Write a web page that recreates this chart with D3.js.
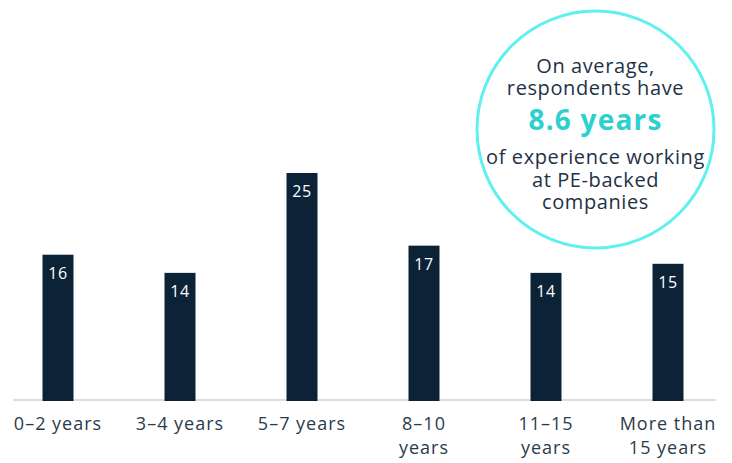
<!DOCTYPE html>
<html>
<head>
<meta charset="utf-8">
<script src="https://cdn.jsdelivr.net/npm/d3@7"></script>
<style>
  body { margin: 0; background: #fff; }
  svg { display: block; font-family: "Open Sans", "Noto Sans", sans-serif; }
</style>
</head>
<body>
<div id="chart"></div>
<script>
// data
const categories = ["0–2 years", "3–4 years", "5–7 years", "8–10 years", "11–15 years", "More than 15 years"]
const labelLines = [["0–2 years"], ["3–4 years"], ["5–7 years"], ["8–10", "years"], ["11–15", "years"], ["More than", "15 years"]]
const values = [16, 14, 25, 17, 14, 15]
const calloutLines = ["On average,", "respondents have", "8.6 years", "of experience working", "at PE-backed", "companies"]

const W = 732, H = 463
const baseY = 400

const svg = d3.select("#chart")
    .append("svg")
    .attr("width", W)
    .attr("height", H)

const x = d3.scaleBand()
    .domain(categories)
    .range([-3, 729])
    .paddingInner(0.746)
    .paddingOuter(0.373)

const y = d3.scaleLinear()
    .domain([0, 25])
    .range([baseY, 173])

// baseline
svg.append("line")
    .attr("x1", 13).attr("x2", 716)
    .attr("y1", baseY).attr("y2", baseY)
    .attr("stroke", "#dedede")
    .attr("stroke-width", 2)

// bars
svg.append("g")
    .selectAll("rect")
    .data(values)
    .join("rect")
    .attr("x", (d, i) => x(categories[i]))
    .attr("y", d => y(d))
    .attr("width", x.bandwidth())
    .attr("height", d => y(0) - y(d) + 1)
    .attr("fill", "#0b2237")

// value labels inside bars
svg.append("g")
    .selectAll("text")
    .data(values)
    .join("text")
    .attr("x", (d, i) => x(categories[i]) + x.bandwidth() / 2)
    .attr("y", d => y(d) + 24)
    .attr("text-anchor", "middle")
    .attr("fill", "#fff")
    .attr("font-size", 16)
    .attr("letter-spacing", 0.5)
    .text(d => d)

// category labels
const cat = svg.append("g")
    .selectAll("text")
    .data(labelLines)
    .join("text")
    .attr("text-anchor", "middle")
    .attr("fill", "#2a3b4c")
    .attr("font-size", 18)
    .attr("letter-spacing", 1)
    .attr("transform", (d, i) => `translate(${x(categories[i]) + x.bandwidth() / 2}, 430)`)
cat.selectAll("tspan")
    .data(d => d)
    .join("tspan")
    .attr("x", 0)
    .attr("y", (d, j) => j * 24)
    .text(d => d)

// callout circle
const cx = 595.5, cy = 129.5
svg.append("circle")
    .attr("cx", cx).attr("cy", cy).attr("r", 118.5)
    .attr("fill", "#fff")
    .attr("stroke", "#5ff0ef")
    .attr("stroke-width", 3)

const lineY = [73, 95, 130, 164, 187, 209]
svg.append("g")
    .selectAll("text")
    .data(calloutLines)
    .join("text")
    .attr("x", cx)
    .attr("y", (d, i) => lineY[i])
    .attr("text-anchor", "middle")
    .attr("fill", (d, i) => i == 2 ? "#2ecfcf" : "#1e3246")
    .attr("font-size", (d, i) => i == 2 ? 28 : 20)
    .attr("font-weight", (d, i) => i == 2 ? 700 : 400)
    .attr("letter-spacing", (d, i) => i == 2 ? 1.2 : 0.6)
    .text(d => d)
</script>
</body>
</html>
